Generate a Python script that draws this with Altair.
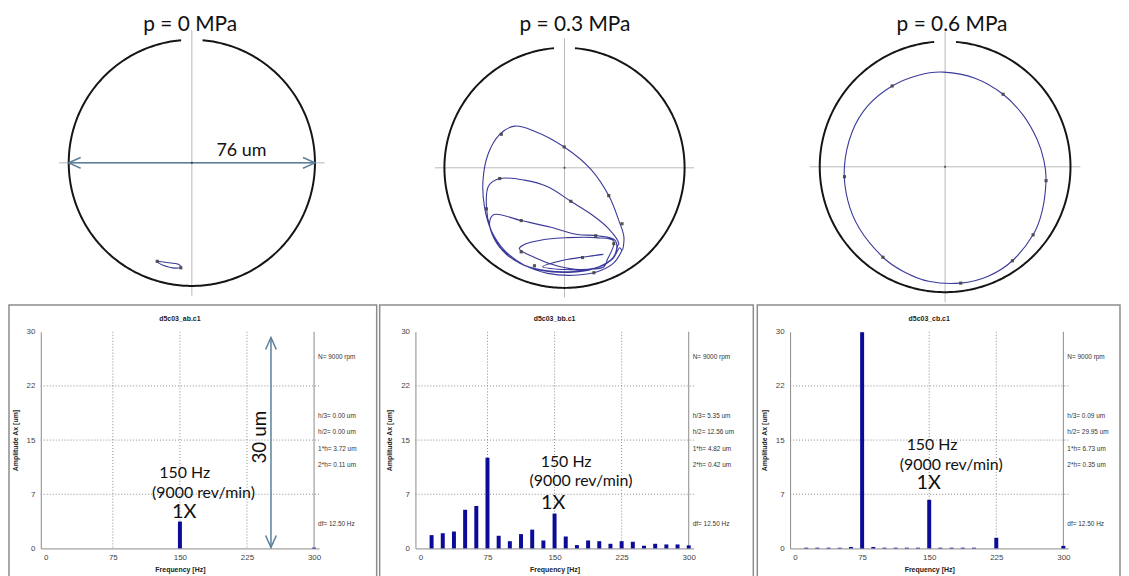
import altair as alt
import numpy as np
import pandas as pd

# ---------------- data ----------------
PRESSURE_TITLES = ["p = 0 MPa", "p = 0.3 MPa", "p = 0.6 MPa"]
CLEARANCE_UM = 76.0

# orbit traces (um, relative to bearing centre)
ORBIT_A_X = [-10.7, -8.3, -4.0, -3.4, -5.2, -8.9, -10.4, -10.7]
ORBIT_A_Y = [-30.4, -30.7, -31.4, -32.2, -32.5, -31.6, -30.8, -30.4]
MARK_A_X = [-10.7, -3.4]
MARK_A_Y = [-30.4, -32.4]

ORBIT_B_X = [12.3, 6.2, -0.1, -6.9, -0.1, 7.2, 12.5, 13.5,
             15.6, 9.9, 0.9, -6.4, -13.2, -14.3, -9.5, -2.2, 5.1, 12.5, 16.1,
             16.1, 10.4, 4.1, -4.3, -13.7, -22.3, -23.7, -22.3, -18.4, -12.7, -5.3, 3.0, 10.9, 15.6, 16.9,
             17.2, 14.0, 8.3, 2.0, -5.3, -12.7, -20.5, -24.0, -24.7, -23.4, -20.0, -14.3, -6.9, 1.5, 9.3, 15.1, 17.5,
             18.2, 18.8, 17.2, 14.0, 8.3, -0.1, -9.5, -15.8, -20.5, -24.2, -25.8, -25.3, -23.2, -19.0, -12.7, -5.3, 3.0, 10.4, 15.6, 18.2]
ORBIT_B_Y = [-27.4, -28.2, -29.2, -31.3, -32.2, -32.2, -31.3, -29.2,
             -23.2, -22.1, -22.1, -22.7, -24.5, -25.6, -28.4, -31.1, -32.2, -30.8, -27.1,
             -23.0, -21.5, -21.1, -18.8, -16.7, -14.8, -17.2, -22.4, -27.4, -30.8, -32.6, -32.8, -31.3, -28.2, -24.5,
             -24.0, -19.3, -14.6, -10.6, -6.0, -3.9, -3.4, -5.7, -12.5, -19.3, -25.6, -30.1, -32.6, -33.1, -31.9, -29.0, -25.3,
             -26.1, -21.9, -16.7, -8.8, -0.4, 6.6, 11.6, 13.2, 10.6, 4.3, -4.1, -12.5, -19.8, -26.1, -30.8, -33.4, -34.0, -32.9, -30.1, -26.1]
MARK_B_X = [-0.1, -20.0, 14.0, 18.2, -24.7, 2.0, -20.5, -13.7, 9.9, -13.7, 5.7, -9.5, 9.3, 15.6]
MARK_B_Y = [6.6, 10.6, -8.8, -17.7, -13.0, -10.6, -3.4, -16.7, -21.5, -26.6, -28.4, -31.0, -33.2, -24.0]

ORBIT_C_X = [-0.5, 9.05, 17.58, 23.75, 27.90, 29.97, 30.59, 29.41, 26.67, 20.39, 13.05, 4.72, -4.97,
             -12.65, -18.84, -25.89, -29.52, -30.53, -28.22, -23.40, -16.05, -8.04]
ORBIT_C_Y = [28.7, 26.87, 21.99, 15.52, 8.26, 1.82, -4.21, -13.43, -20.62, -28.48, -33.17, -35.25, -34.71,
             -31.71, -27.41, -18.85, -10.12, -0.09, 10.47, 18.52, 24.50, 27.78]
MARK_C_X = [17.58, 26.67, 20.39, 4.72, -18.84, -30.5, -16.05, 30.6]
MARK_C_Y = [21.99, -20.62, -28.48, -35.25, -27.41, -3.0, 24.50, -4.2]

# spectra
FILE_NAMES = ["d5c03_ab.c1", "d5c03_bb.c1", "d5c03_cb.c1"]
FREQ_HZ = [12.5, 25.0, 37.5, 50.0, 62.5, 75.0, 87.5, 100.0, 112.5, 125.0, 137.5, 150.0,
           162.5, 175.0, 187.5, 200.0, 212.5, 225.0, 237.5, 250.0, 262.5, 275.0, 287.5, 300.0]
AMP_A = [0, 0, 0, 0, 0, 0, 0, 0, 0, 0, 0, 3.72, 0, 0, 0, 0, 0, 0, 0, 0, 0, 0, 0, 0.11]
AMP_B = [1.84, 2.10, 2.34, 5.35, 5.88, 12.56, 1.75, 1.00, 1.98, 2.60, 1.10, 4.82,
         1.65, 0.46, 1.10, 1.00, 0.64, 1.00, 0.92, 0.37, 0.64, 0.55, 0.55, 0.42]
AMP_C = [0.10, 0.10, 0.10, 0.09, 0.20, 29.95, 0.20, 0.10, 0.10, 0.10, 0.10, 6.73,
         0.10, 0.10, 0.10, 0.10, 0, 1.47, 0, 0, 0, 0, 0, 0.35]
H3 = ["0.00", "5.35", "0.09"]
H2 = ["0.00", "12.56", "29.95"]
H1 = ["3.72", "4.82", "6.73"]
H2X = ["0.11", "0.42", "0.35"]
X_TICKS = [0, 75, 150, 225, 300]
Y_TICKS = [0, 7.5, 15, 22.5, 30]

# ---------------- layout ----------------
W = 280
H_TOP = 266
H_BOT = 218
CENTER_PX = [(152, 132), (150, 137), (156, 136)]
PX_PER_UM = [3.26, 3.18, 3.32]
TITLE_X_UM = [-0.5, 3.3, 2.1]
ORBIT_COLOR = "#3a3a9a"
ARROW_COLOR = "#5b7f9a"
BAR_COLOR = "#0b0b98"
ARROW_PATH = "M-1,-0.45L0,0L-1,0.45"
ORBIT_INTERP = ["catmull-rom", "catmull-rom", "cardinal-closed"]

orbits = [(ORBIT_A_X, ORBIT_A_Y, MARK_A_X, MARK_A_Y),
          (ORBIT_B_X, ORBIT_B_Y, MARK_B_X, MARK_B_Y),
          (ORBIT_C_X, ORBIT_C_Y, MARK_C_X, MARK_C_Y)]

r = CLEARANCE_UM / 2
ang = np.deg2rad(np.arange(95, 446, 1.0))
circle_df = pd.DataFrame({"x": r * np.cos(ang), "y": r * np.sin(ang), "o": np.arange(len(ang))})


def orbit_panel(i):
    cx, cy = CENTER_PX[i]
    s = PX_PER_UM[i]
    xs = alt.Scale(domain=[-cx / s, (W - cx) / s], nice=False, zero=False)
    ys = alt.Scale(domain=[-(H_TOP - cy) / s, cy / s], nice=False, zero=False)
    X = alt.X("x:Q", scale=xs, axis=None)
    Y = alt.Y("y:Q", scale=ys, axis=None)
    ox, oy, mx, my = orbits[i]

    cross = alt.Chart(pd.DataFrame({"x": [-41, 0], "x2": [41, 0], "y": [0, -41], "y2": [0, 41]})).mark_rule(
        color="#b8b8b8", strokeWidth=1).encode(X, Y, x2="x2:Q", y2="y2:Q")
    circ = alt.Chart(circle_df).mark_line(color="#151515", strokeWidth=2).encode(X, Y, order="o:Q")
    odf = pd.DataFrame({"x": ox, "y": oy, "o": list(range(len(ox)))})
    orb = alt.Chart(odf).mark_line(color=ORBIT_COLOR, strokeWidth=1.1, interpolate=ORBIT_INTERP[i]).encode(
        X, Y, order="o:Q")
    mk = alt.Chart(pd.DataFrame({"x": mx, "y": my})).mark_point(
        shape="square", size=10, filled=True, color="#444", opacity=0.9).encode(X, Y)
    dot = alt.Chart(pd.DataFrame({"x": [0], "y": [0]})).mark_point(
        shape="circle", size=5, filled=True, color="#222").encode(X, Y)
    ttl = alt.Chart(pd.DataFrame({"x": [TITLE_X_UM[i]], "t": [PRESSURE_TITLES[i]]})).mark_text(
        font="Lato", fontSize=21, baseline="alphabetic", color="#111").encode(
        x=X, y=alt.value(-1), text="t:N")
    layers = [cross, circ, orb, mk, dot, ttl]
    if i == 0:
        arr = alt.Chart(pd.DataFrame({"x": [-r], "x2": [r], "y": [0]})).mark_rule(
            color=ARROW_COLOR, strokeWidth=1.5).encode(X, Y, x2="x2:Q")
        heads = alt.Chart(pd.DataFrame({"x": [-r, r], "y": [0, 0], "a": [180, 0]})).mark_point(
            shape=ARROW_PATH, filled=False, color=ARROW_COLOR, strokeWidth=1.5, size=576, opacity=1).encode(
            X, Y, angle=alt.Angle("a:Q", scale=None))
        lab = alt.Chart(pd.DataFrame({"x": [15.3], "y": [3.7], "t": ["76 um"]})).mark_text(
            font="Lato", fontSize=18, color="#111").encode(X, Y, text="t:N")
        layers = [cross, arr, circ, orb, mk, dot, heads, lab, ttl]
    return alt.layer(*layers).properties(width=W, height=H_TOP)


SPECTRA = [AMP_A, AMP_B, AMP_C]
BOX_X = [(-32, 338), (-36, 340), (-33, 332)]
ANNOT = [
    [(155.4, 10.46), (176.3, 7.71), (154.8, 5.09)],
    [(162.9, 11.97), (179.5, 9.36), (148.4, 6.33)],
    [(153.2, 14.31), (174.6, 11.56), (149.5, 9.01)],
]
SIDE_Y = [26.56, 18.30, 16.10, 13.76, 11.56, 3.37]


def spectrum_panel(i):
    X = alt.X("f:Q", scale=alt.Scale(domain=[0, 300], nice=False, zero=False),
              axis=alt.Axis(values=X_TICKS, title="Frequency [Hz]", grid=False, ticks=False,
                            domainColor="#8a8a8a", domainWidth=1, labelFontSize=8, labelColor="#444",
                            labelFont="Liberation Sans", labelPadding=5, titleFont="Liberation Sans",
                            titleFontSize=7, titleFontWeight="bold", titleColor="#222", titlePadding=4,
                            labelFlush=False))
    Y = alt.Y("a:Q", scale=alt.Scale(domain=[0, 30], nice=False, zero=False),
              axis=alt.Axis(values=Y_TICKS, labelExpr="floor(datum.value)", title="Amplitude Ax [um]",
                            grid=False, ticks=False, domainColor="#8a8a8a", domainWidth=1, labelFontSize=8,
                            labelColor="#444", labelFont="Liberation Sans", labelPadding=6,
                            titleFont="Liberation Sans", titleFontSize=7, titleFontWeight="bold",
                            titleColor="#222", titlePadding=8, labelFlush=False))
    df = pd.DataFrame({"f": FREQ_HZ, "a": SPECTRA[i]})
    bx0, bx1 = BOX_X[i]
    box = alt.Chart(pd.DataFrame({"k": [0]})).mark_rect(
        fillOpacity=0, stroke="#8c8c8c", strokeWidth=1.5).encode(
        x=alt.value(bx0), x2=alt.value(bx1), y=alt.value(-27), y2=alt.value(250))
    gx = alt.Chart(pd.DataFrame({"f": [75, 150, 225]})).mark_rule(
        color="#8a8a8a", strokeDash=[1, 2], strokeWidth=1).encode(x=X)
    gy = alt.Chart(pd.DataFrame({"a": [7.5, 15, 22.5]})).mark_rule(
        color="#8a8a8a", strokeDash=[1, 2], strokeWidth=1).encode(y=Y)
    rb = alt.Chart(pd.DataFrame({"f": [300]})).mark_rule(color="#8a8a8a", strokeWidth=1).encode(x=X)
    bars = alt.Chart(df).mark_bar(size=4, color=BAR_COLOR).encode(X, Y)
    side = pd.DataFrame({
        "f": [300] * 6, "a": SIDE_Y,
        "t": ["N= 9000 rpm", f"h/3= {H3[i]} um", f"h/2= {H2[i]} um", f"1*h= {H1[i]} um",
              f"2*h= {H2X[i]} um", "df= 12.50 Hz"]})
    st = alt.Chart(side).mark_text(align="left", dx=4, fontSize=6.5, font="Liberation Sans",
                                   color="#333").encode(X, Y, text="t:N")
    ttl = alt.Chart(pd.DataFrame({"f": [150], "t": [FILE_NAMES[i]]})).mark_text(
        fontSize=7, font="Liberation Sans", fontWeight="bold", color="#222").encode(
        x=X, y=alt.value(-13), text="t:N")
    (p1, p2, p3) = ANNOT[i]
    ann = pd.DataFrame({"f": [p1[0], p2[0]], "a": [p1[1], p2[1]], "t": ["150 Hz", "(9000 rev/min)"]})
    at = alt.Chart(ann).mark_text(font="Lato", fontSize=16, color="#111").encode(X, Y, text="t:N")
    ax = alt.Chart(pd.DataFrame({"f": [p3[0]], "a": [p3[1]], "t": ["1X"]})).mark_text(
        font="Lato", fontSize=20, color="#111").encode(X, Y, text="t:N")
    layers = [box, gx, gy, rb, bars, st, ttl, at, ax]
    if i == 0:
        va = alt.Chart(pd.DataFrame({"f": [251.8], "a": [0.14], "a2": [29.2]})).mark_rule(
            color=ARROW_COLOR, strokeWidth=1.5).encode(X, Y, y2="a2:Q")
        vh = alt.Chart(pd.DataFrame({"f": [251.8, 251.8], "a": [0.14, 29.2], "ang": [90, 270]})).mark_point(
            shape=ARROW_PATH, filled=False, color=ARROW_COLOR, strokeWidth=1.5, size=576, opacity=1).encode(
            X, Y, angle=alt.Angle("ang:Q", scale=None))
        vt = alt.Chart(pd.DataFrame({"f": [240.0], "a": [15.4], "t": ["30 um"]})).mark_text(
            font="Lato", fontSize=19, angle=270, color="#111").encode(X, Y, text="t:N")
        layers += [va, vh, vt]
    return alt.layer(*layers).properties(width=W, height=H_BOT)


panels = [orbit_panel(i) for i in range(3)] + [spectrum_panel(i) for i in range(3)]
chart = alt.concat(*panels, columns=3, spacing={"row": 36, "column": 97}, bounds="flush").properties(
    padding={"left": 0, "top": 4, "right": 0, "bottom": 0}, background="white"
).configure_view(stroke="transparent", strokeWidth=0)

chart.save("out.html", embed_options={"renderer": "svg", "actions": False})
